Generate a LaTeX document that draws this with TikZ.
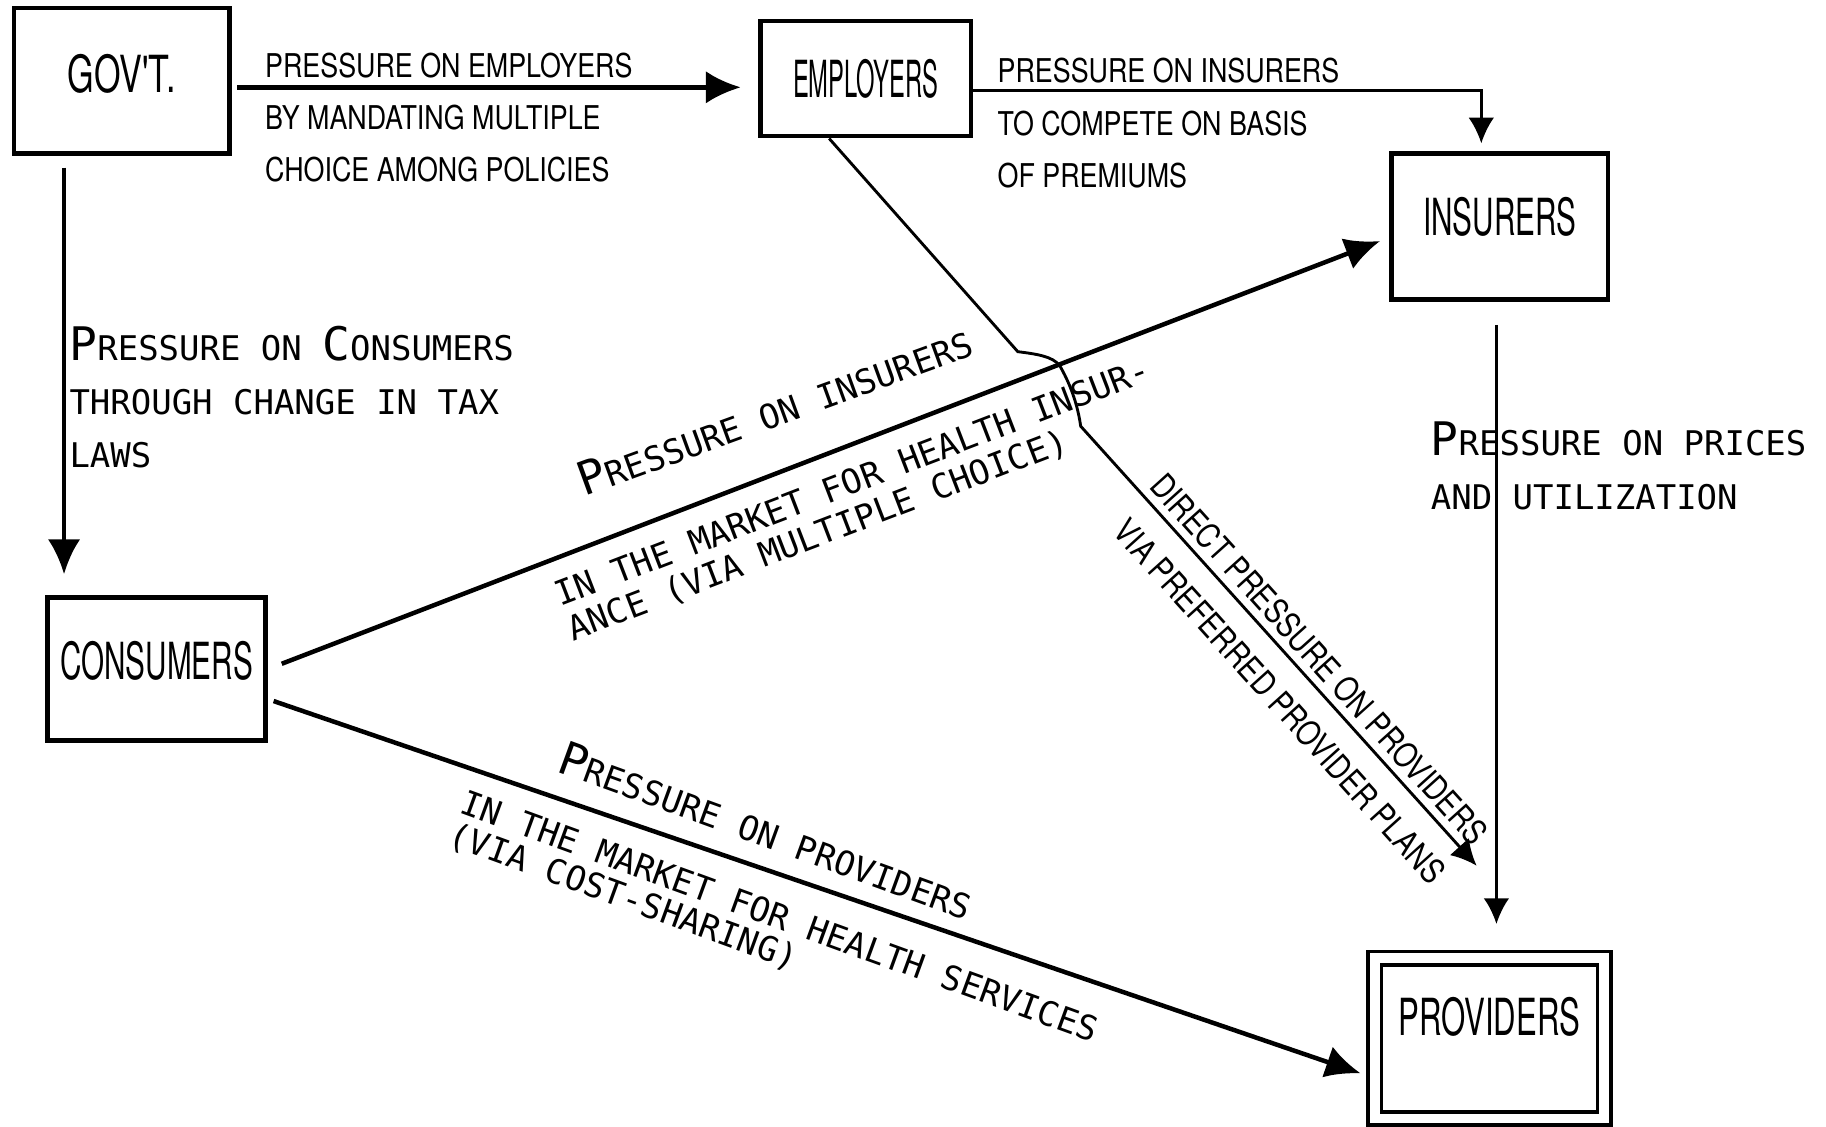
\documentclass[tikz,border=0pt]{standalone}
\usepackage{fontspec}
\newfontfamily\boxfont[FakeStretch=0.58]{TeX Gyre Heros}
\newfontfamily\lblfont[FakeStretch=0.82]{TeX Gyre Heros}
\newfontfamily\handfont{DejaVu Sans Mono}
\usetikzlibrary{arrows.meta}
\newcommand{\firstcap}[1]{{\fontsize{11.3}{11.3}\selectfont #1}}
\tikzset{
  agent/.style = {rectangle, draw=black, line width=1.1pt, inner sep=0pt,
    font=\boxfont\fontsize{12.5}{14}\selectfont},% acteur
  note/.style = {align=left, inner sep=0pt,
    font=\lblfont\fontsize{8}{12.8}\selectfont},% texte droit
  hand/.style = {align=left, inner sep=0pt,
    font=\handfont\fontsize{8.3}{13}\selectfont},% texte a la main
  heavy/.style = {->, line width=1.1pt},
  light/.style = {-{Latex[length=2.2mm,width=2.2mm]}, line width=0.7pt}
}

\begin{document}
\begin{tikzpicture}[x=0.1mm, y=-0.1mm, >={Latex[length=3mm,width=2.8mm]}]
\useasboundingbox (0,0) rectangle (1568,967);

% les acteurs
\node [agent, minimum width=18.5mm, minimum height=12.5mm, text depth=1.3mm] (gov) at (104.5,69.5) {\scalebox{1.15}[1]{GOV'T.}};
\node [agent, minimum width=18.1mm, minimum height=9.9mm] (empl) at (743.5,67.5) {\scalebox{0.8}[1]{EMPLOYERS}};
\node [agent, minimum width=18.6mm, minimum height=12.5mm, text depth=1.7mm] (ins) at (1288,194.5) {INSURERS};
\node [agent, minimum width=18.7mm, minimum height=12.3mm, text depth=1.5mm] (cons) at (134.5,574.5) {CONSUMERS};
\node [agent, double, double distance=0.85mm, line width=0.9pt,
  minimum width=19.7mm, minimum height=13.75mm, text depth=3.75mm] (prov) at (1279,891.75) {\scalebox{1.05}[1]{PROVIDERS}};

% les pressions
\draw [heavy, shorten <=0.5mm, shorten >=1.5mm] ([yshift=-0.55mm]gov.east) -- ([yshift=-0.55mm]gov.east -| empl.west);
\draw [light, shorten >=0.7mm] ([yshift=-1mm]empl.east) -| ([xshift=-1.6mm]ins.north);
\draw [light, shorten <=2mm, shorten >=2.8mm] ([xshift=-0.3mm]ins.south) -- ([xshift=-0.3mm]ins.south |- prov.north);
\draw [heavy, shorten <=1mm, shorten >=1.8mm] ([xshift=-4.95mm]gov.south) -- ([xshift=-4.95mm]gov.south |- cons.north);
\draw [heavy] ([xshift=1.2mm,yshift=0.45mm]cons.east) -- ([xshift=-0.8mm,yshift=-1.25mm]ins.west);
\draw [heavy] ([xshift=0.5mm,yshift=-2.75mm]cons.east) -- ([xshift=-1.05mm,yshift=-3mm]prov.west);
\draw [light] ([xshift=-3.15mm]empl.south) -- (874,302)
  .. controls (890,304) and (904,306) .. (910,314)
  .. controls (918,328) and (925,345) .. (928,366)
  -- ([xshift=-1.1mm,yshift=7.8mm]prov.north);

% les textes
\node [note, anchor=west] (t1) at (227,101) {PRESSURE ON EMPLOYERS\\BY MANDATING MULTIPLE\\CHOICE AMONG POLICIES};
\node [note, anchor=west] (t2) at (856,106) {PRESSURE ON INSURERS\\TO COMPETE ON BASIS\\OF PREMIUMS};
\node [hand, anchor=west] (t3) at (59,341) {\firstcap{P}RESSURE ON \firstcap{C}ONSUMERS\\THROUGH CHANGE IN TAX\\LAWS};
\node [hand, anchor=west] (t4) at (1228,400) {\firstcap{P}RESSURE ON PRICES\\AND UTILIZATION};
\node [hand, rotate=20] (t5) at (665,352) {\firstcap{P}RESSURE ON INSURERS};
\node [hand, rotate=21, font=\handfont\fontsize{8.3}{9}\selectfont] (t6) at (738,430)
  {IN THE MARKET FOR HEALTH INSUR-\\ANCE (VIA MULTIPLE CHOICE)};
\node [hand, rotate=-20] (t7) at (658,713) {\firstcap{P}RESSURE ON PROVIDERS};
\node [hand, rotate=-20, font=\handfont\fontsize{8.3}{8.4}\selectfont] (t8) at (664,802)
  {IN THE MARKET FOR HEALTH SERVICES\\(VIA COST-SHARING)};
\node [note, rotate=-48, font=\lblfont\fontsize{8.3}{10}\selectfont] (t9) at (1133,566) {DIRECT PRESSURE ON PROVIDERS};
\node [note, rotate=-48, font=\lblfont\fontsize{8.3}{10}\selectfont] (t10) at (1099,602) {VIA PREFERRED PROVIDER PLANS};
\end{tikzpicture}
\end{document}
